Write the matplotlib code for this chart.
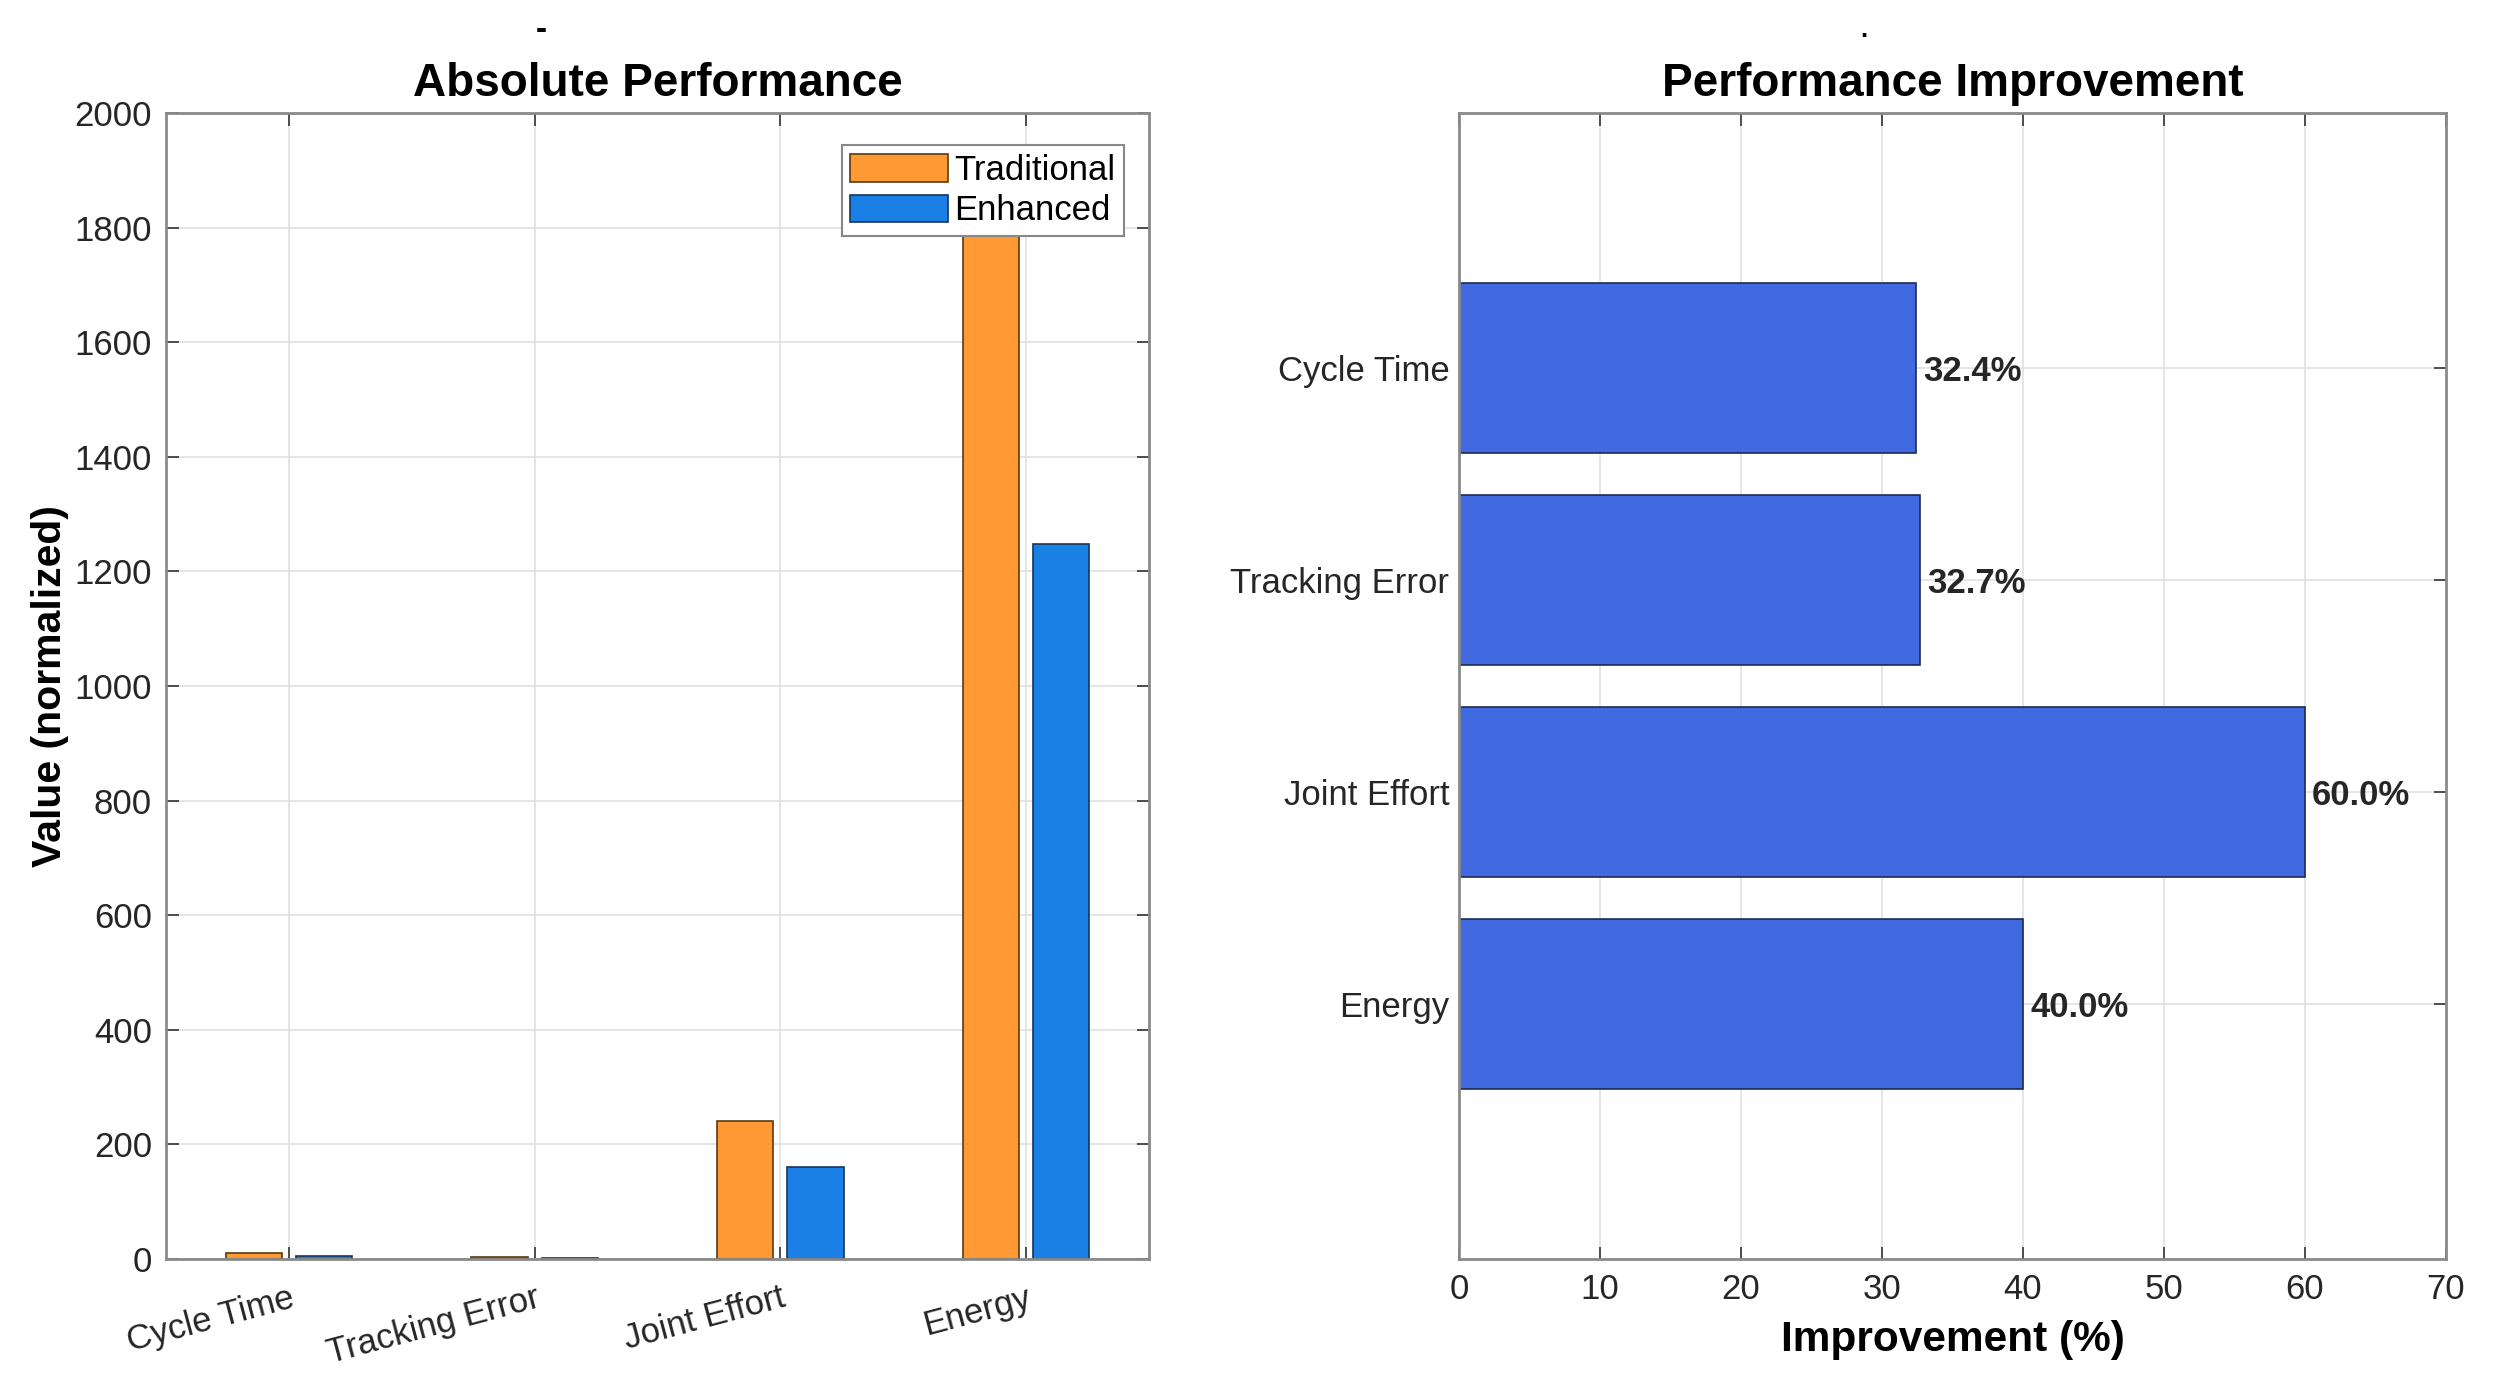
import numpy as np
import matplotlib.pyplot as plt

plt.rcParams['font.family'] = ['Liberation Sans', 'DejaVu Sans']

# data
metrics = ['Cycle Time', 'Tracking Error', 'Joint Effort', 'Energy']
traditional = [10, 4, 241, 1900]
enhanced = [5, 1, 160, 1248]
improvement = [32.4, 32.7, 60.0, 40.0]

c_trad = '#FF9933'
c_enh = '#1A80E6'
c_imp = '#4169E0'
frame = '#8a8a8a'
grid_c = '#e0e0e0'


def style_axes(ax):
  for s in ax.spines.values():
    s.set_color(frame)
    s.set_linewidth(2)
  ax.tick_params(direction='in', length=9, width=1.2, color='#333333',
                 labelsize=25, top=True, right=True, pad=10, labelcolor='#262626')
  ax.grid(True, color=grid_c, linewidth=1.2)
  ax.set_axisbelow(True)


fig = plt.figure(figsize=(24.93, 13.92), dpi=100)
ax1 = fig.add_axes([166 / 2493, 1 - 1259 / 1392, (1149 - 166) / 2493, (1259 - 113) / 1392])
ax2 = fig.add_axes([1459 / 2493, 1 - 1259 / 1392, (2446 - 1459) / 2493, (1259 - 113) / 1392])

# left: grouped bars
x = np.arange(1, len(metrics) + 1)
w = 0.229
off = 0.143
ax1.bar(x - off, traditional, w, color=c_trad, edgecolor='#5a3a10', linewidth=1.2, label='Traditional')
ax1.bar(x + off, enhanced, w, color=c_enh, edgecolor='#15365a', linewidth=1.2, label='Enhanced')
ax1.set_xlim(0.5, 4.5)
ax1.set_ylim(0, 2000)
ax1.set_yticks(np.arange(0, 2001, 200))
ax1.set_xticks(x)
style_axes(ax1)
ax1.tick_params(axis='x', pad=16)
ax1.set_xticklabels(metrics, rotation=15, ha='right', rotation_mode='anchor')
ax1.set_ylabel('Value (normalized)', fontsize=29.5, fontweight='bold', labelpad=4)
ax1.set_title('Absolute Performance', fontsize=33, fontweight='bold', pad=12)
leg = ax1.legend(loc='upper right', bbox_to_anchor=(0.982, 0.978), fontsize=25, frameon=True,
                 fancybox=False, edgecolor='#888888', framealpha=1, handlelength=2.8,
                 handleheight=0.85, handletextpad=0.2, borderpad=0.25, labelspacing=0.22,
                 borderaxespad=0.2)
leg.get_frame().set_linewidth(1.5)
leg.set_zorder(10)

# right: horizontal improvement bars
y = np.arange(1, len(metrics) + 1)
ax2.barh(y, improvement, 0.8, color=c_imp, edgecolor='#1e2a50', linewidth=1.2)
for yi, v in zip(y, improvement):
  ax2.text(v + 0.5, yi, f'{v:.1f}%', va='center_baseline', ha='left', fontsize=25,
           fontweight='bold', color='#262626')
ax2.set_xlim(0, 70)
ax2.set_ylim(5.2, -0.2)
ax2.set_xticks(np.arange(0, 71, 10))
ax2.set_yticks(y)
ax2.set_yticklabels(metrics)
style_axes(ax2)
ax2.tick_params(axis='y', pad=7)
ax2.set_xlabel('Improvement (%)', fontsize=30.5, fontweight='bold', labelpad=10)
ax2.set_title('Performance Improvement', fontsize=33, fontweight='bold', pad=12)

# stray marks above the titles
fig.text(541 / 2493, 1 - 30 / 1392, '-', fontsize=24, fontweight='bold', ha='center', va='center')
fig.text(1864 / 2493, 1 - 30 / 1392, '.', fontsize=18, fontweight='bold', ha='center', va='center')

fig.savefig('out.png', dpi=100, facecolor='white')
